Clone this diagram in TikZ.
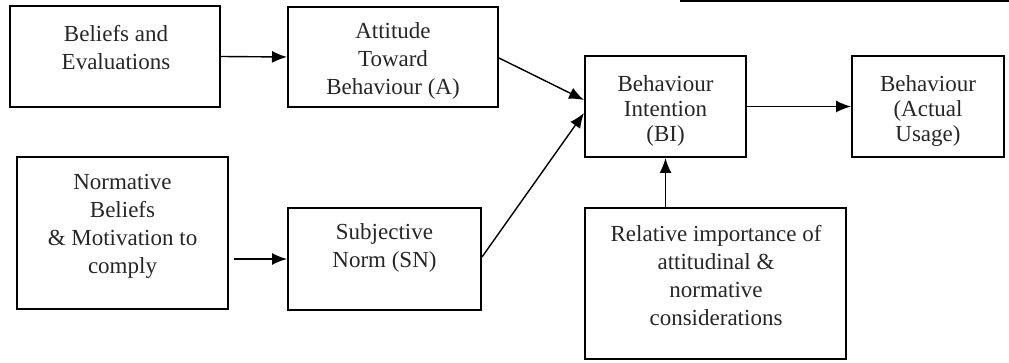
\documentclass[tikz,border=0pt]{standalone}
\usepackage{fontspec}
\setmainfont{Liberation Serif}
\usetikzlibrary{arrows.meta,calc}
\begin{document}
\begin{tikzpicture}[x=1pt,y=-1pt,
  box/.style={draw, line width=2pt, inner sep=0pt},
  txt/.style={align=center, font=\fontsize{23}{28}\selectfont, inner sep=0pt, text=black!85},
  txtb/.style={align=center, font=\fontsize{23}{25}\selectfont, inner sep=0pt, text=black!85},
  arr/.style={-{Latex[length=15pt,width=12pt]}, line width=1.4pt}]
\useasboundingbox (0,0) rectangle (1009,363);
% boxes
\node[box, minimum width=210pt, minimum height=101pt] (bel) at (115,56.5) {};
\node[box, minimum width=210pt, minimum height=100pt] (att) at (393,57) {};
\node[box, minimum width=161pt, minimum height=101pt] (bi) at (665.5,106.5) {};
\node[box, minimum width=152pt, minimum height=101pt] (act) at (928,106.5) {};
\node[box, minimum width=211pt, minimum height=152pt] (nor) at (122.5,233) {};
\node[box, minimum width=193pt, minimum height=102pt] (sn) at (384.5,259) {};
\node[box, minimum width=261pt, minimum height=151pt] (rel) at (715.5,283.5) {};
% texts
\node[txt] (telb) at (116,48) {Beliefs and\\Evaluations};
\node[txt] (tatt) at (393,61) {Attitude\\Toward\\Behaviour (A)};
\node[txtb] (tbi) at (665.5,111) {Behaviour\\Intention\\(BI)};
\node[txtb] (tact) at (928,111) {Behaviour\\(Actual\\Usage)};
\node[txt] (tnor) at (122.5,226) {Normative\\Beliefs\\\& Motivation to\\comply};
\node[txt] (tsn) at (384.5,248) {Subjective\\Norm (SN)};
\node[txt] (trel) at (716,276) {Relative importance of\\attitudinal \&\\normative\\considerations};
% connectors
\draw[arr] (bel.east) -- (att.west);
\draw[arr] ($(att.east)+(0,1)$) -- ($(bi.west)+(0,-6.5)$);
\draw[arr] ($(sn.east)+(0,-2)$) -- ($(bi.west)+(0,6.5)$);
\draw[arr] ([xshift=5pt]nor.east |- sn.west) -- (sn.west);
\draw[arr] (bi.east) -- (act.west);
\draw[arr] (bi.south |- rel.north) -- (bi.south);
% top rule
\coordinate (tl) at (680,1);
\coordinate (tr) at (1009,1);
\draw[line width=2pt] (tl) -- (tr);
\end{tikzpicture}
\end{document}
